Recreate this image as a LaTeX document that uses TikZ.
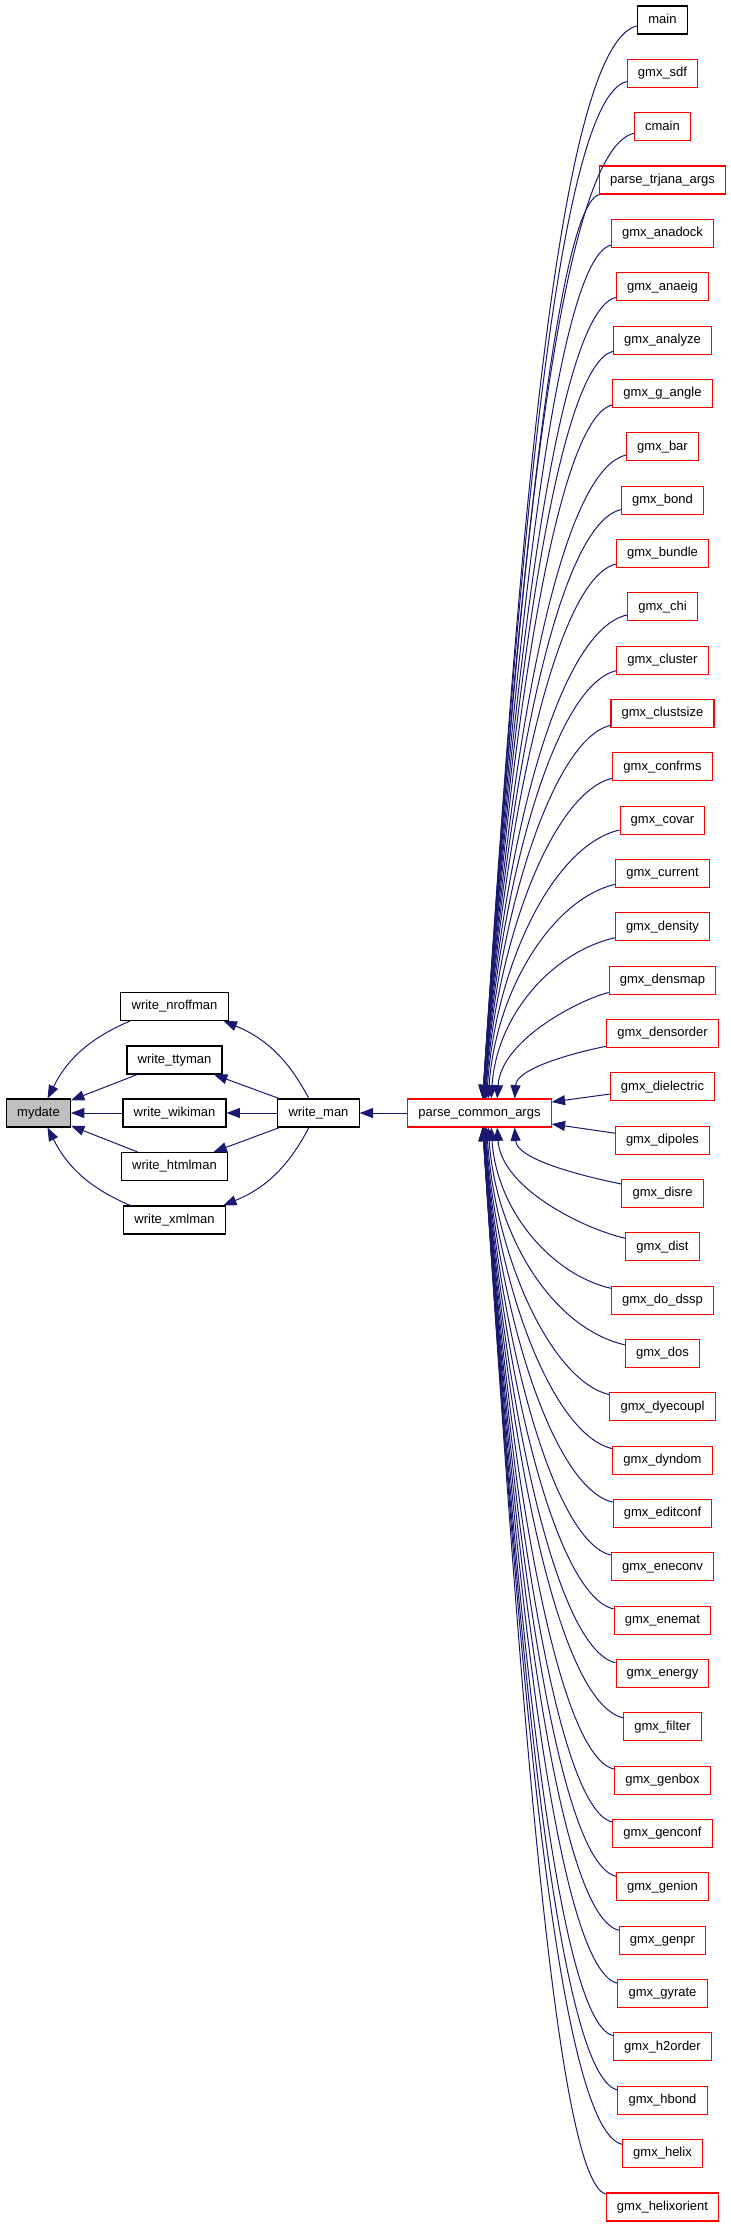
\documentclass[tikz,border=0pt]{standalone}
\usepackage{fontspec}
\setmainfont{Liberation Sans}
\usepackage{xcolor}
\usetikzlibrary{arrows.meta,calc}
\definecolor{edgeblue}{HTML}{191970}
\definecolor{boxgray}{HTML}{BFBFBF}

\begin{document}
\begin{tikzpicture}[
  x=0.75pt, y=0.75pt,
  box/.style={draw, line width=0.8pt, inner xsep=8pt, inner ysep=0pt, minimum height=21pt,
    text height=7pt, text depth=2pt, font=\fontsize{9.75}{11}\selectfont},
  redbox/.style={box, draw=red},
  cur/.style={box, fill=boxgray},
  arrow/.style={-{Triangle[length=10pt,width=7.5pt]}, color=edgeblue, line width=0.75pt}
]
\useasboundingbox (0,0) rectangle (731,-2227);

\node[cur] (mydate) at (38.5,-1113) {mydate};
\node[box] (nroff) at (174.5,-1006.5) {write\_nroffman};
\node[box] (tty) at (174.5,-1060) {write\_ttyman};
\node[box] (wiki) at (174.5,-1113) {write\_wikiman};
\node[box] (html) at (174.5,-1166.5) {write\_htmlman};
\node[box] (xml) at (174.5,-1220) {write\_xmlman};
\node[box] (wman) at (318.5,-1113) {write\_man};
\node[redbox] (pca) at (479.5,-1113) {parse\_common\_args};

\node[box] (c0) at (662.5,-20) {main};
\foreach \t [count=\i] in {gmx\_sdf, cmain, parse\_trjana\_args, gmx\_anadock, gmx\_anaeig,
    gmx\_analyze, gmx\_g\_angle, gmx\_bar, gmx\_bond, gmx\_bundle, gmx\_chi, gmx\_cluster,
    gmx\_clustsize, gmx\_confrms, gmx\_covar, gmx\_current, gmx\_density, gmx\_densmap,
    gmx\_densorder, gmx\_dielectric, gmx\_dipoles, gmx\_disre, gmx\_dist, gmx\_do\_dssp,
    gmx\_dos, gmx\_dyecoupl, gmx\_dyndom, gmx\_editconf, gmx\_eneconv, gmx\_enemat,
    gmx\_energy, gmx\_filter, gmx\_genbox, gmx\_genconf, gmx\_genion, gmx\_genpr,
    gmx\_gyrate, gmx\_h2order, gmx\_hbond, gmx\_helix, gmx\_helixorient}
  \node[redbox] (c\i) at (662.5,{-20-53.34*\i}) {\t};

\draw[arrow] (nroff) to[bend right=20] (mydate);
\draw[arrow] (tty) -- (mydate);
\draw[arrow] (wiki) -- (mydate);
\draw[arrow] (html) -- (mydate);
\draw[arrow] (xml) to[bend left=20] (mydate);
\draw[arrow] (wman) to[bend right=20] (nroff);
\draw[arrow] (wman) -- (tty);
\draw[arrow] (wman) -- (wiki);
\draw[arrow] (wman) -- (html);
\draw[arrow] (wman) to[bend left=20] (xml);
\draw[arrow] (pca) -- (wman);

\foreach \i in {0,...,19}{
  \pgfmathsetmacro\h{1113-(20+53.34*\i)}
  \pgfmathsetmacro\ka{min(110,0.6*\h)}
  \pgfmathsetmacro\dx{2.5+60/((20.5-\i)^1.5)}
  \draw[arrow] (c\i) .. controls +(-\ka,-0.23*\ka) and +(0.03*\h,0.45*\h) .. ($(pca.north)+(\dx,0)$);
}
\draw[arrow] (c20) -- ($(pca.east)+(0,11)$);
\draw[arrow] (c21) -- ($(pca.east)+(0,-11)$);
\foreach \i in {22,...,41}{
  \pgfmathsetmacro\h{(20+53.34*\i)-1113}
  \pgfmathsetmacro\ka{min(110,0.6*\h)}
  \pgfmathsetmacro\dx{2.5+60/((\i-20.5)^1.5)}
  \draw[arrow] (c\i) .. controls +(-\ka,0.23*\ka) and +(0.03*\h,-0.45*\h) .. ($(pca.south)+(\dx,0)$);
}
\end{tikzpicture}
\end{document}
